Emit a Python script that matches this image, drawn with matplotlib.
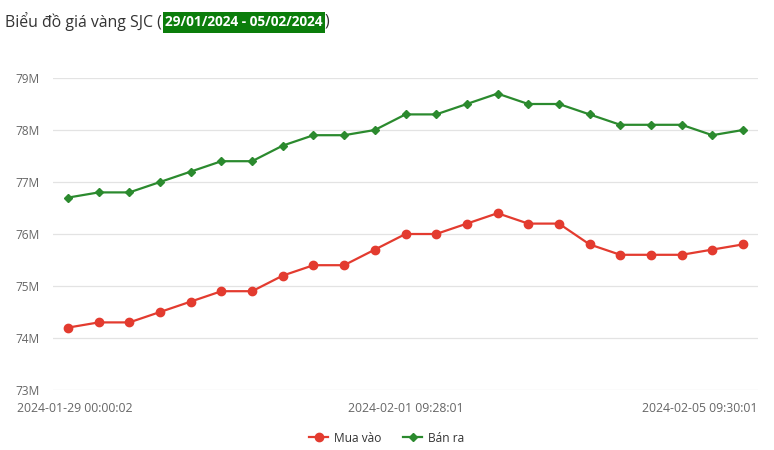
import matplotlib
matplotlib.use('Agg')

import matplotlib.pyplot as plt
import matplotlib.transforms as mtransforms
from matplotlib.lines import Line2D
from matplotlib.patches import Rectangle

# Giá vàng SJC (triệu đồng / lượng)
mua_vao = [74.2, 74.3, 74.3, 74.5, 74.7, 74.9, 74.9, 75.2, 75.4, 75.4, 75.7, 76.0,
           76.0, 76.2, 76.4, 76.2, 76.2, 75.8, 75.6, 75.6, 75.6, 75.7, 75.8]
ban_ra = [76.7, 76.8, 76.8, 77.0, 77.2, 77.4, 77.4, 77.7, 77.9, 77.9, 78.0, 78.3,
          78.3, 78.5, 78.7, 78.5, 78.5, 78.3, 78.1, 78.1, 78.1, 77.9, 78.0]
tick_idx = [0, 11, 22]
tick_labels = ["2024-01-29 00:00:02", "2024-02-01 09:28:01", "2024-02-05 09:30:01"]
y_ticks = [73, 74, 75, 76, 77, 78, 79]

RED = '#e33b2f'
GREEN = '#2b8a2e'
FONT = ['Open Sans', 'DejaVu Sans']

plt.rcParams['font.family'] = FONT

W, H = 774, 450
fig = plt.figure(figsize=(W / 100, H / 100), dpi=100)
fig.patch.set_facecolor('white')


def px(dx, dy=0):
    return mtransforms.ScaledTranslation(dx / 100, dy / 100, fig.dpi_scale_trans)


ax = fig.add_axes([53 / W, 1 - 390 / H, (758 - 53) / W, (390 - 78) / H])
x = list(range(len(mua_vao)))
ax.plot(x, mua_vao, color=RED, lw=1.6, marker='o', ms=6, label='Mua vào', zorder=3)
ax.plot(x, ban_ra, color=GREEN, lw=1.6, marker='D', ms=4.2, label='Bán ra', zorder=3)

ax.set_xlim(-0.49, len(x) - 1 + 0.49)
ax.set_ylim(73, 79)
ax.set_yticks(y_ticks)
ax.set_yticklabels([f"{v}M" for v in y_ticks])
ax.grid(axis='y', color='#e3e3e3', lw=0.9)
ax.set_axisbelow(True)
for s in ax.spines.values():
    s.set_visible(False)

ax.tick_params(axis='y', length=0, pad=0, labelsize=8.6, labelcolor='#666666')
for lbl in ax.get_yticklabels():
    lbl.set_ha('left')
    lbl.set_transform(lbl.get_transform() + px(-38))

ax.set_xticks(tick_idx)
ax.set_xticklabels(tick_labels)
ax.tick_params(axis='x', length=0, pad=9, labelsize=8.8, labelcolor='#666666')
xl = ax.get_xticklabels()
xl[0].set_transform(xl[0].get_transform() + px(7))
xl[-1].set_ha('right')
xl[-1].set_transform(xl[-1].get_transform() + px(15))

# legend
handles = [Line2D([], [], color=RED, lw=1.6, marker='o', ms=6),
           Line2D([], [], color=GREEN, lw=1.6, marker='D', ms=4.2)]
fig.legend(handles, ['Mua vào', 'Bán ra'], loc='center', bbox_to_anchor=(0.5, 1 - 438 / H),
           ncol=2, frameon=False, fontsize=8.6, handlelength=1.6, handletextpad=0.5,
           columnspacing=1.8, labelcolor='#333333')

# title with highlighted dates
fig.canvas.draw()
r = fig.canvas.get_renderer()
ty = 1 - 22 / H
t1 = fig.text(5 / W, ty, "Biểu đồ giá vàng SJC (", fontsize=11.4, color='#333333', va='center')
x1 = t1.get_window_extent(r).x1
t2 = fig.text((x1 + 3) / W, ty, "29/01/2024 - 05/02/2024", fontsize=9.8, color='white',
              fontweight='bold', va='center', zorder=3)
bb = t2.get_window_extent(r)
fig.patches.append(Rectangle(((x1 + 1) / W, 1 - 33 / H), (bb.width + 4) / W, 21 / H,
                             transform=fig.transFigure, fc='#0b7d0b', ec='none', zorder=2))
fig.text((bb.x1 + 2) / W, ty, ")", fontsize=11.4, color='#333333', va='center')

fig.savefig('out.png', dpi=100, facecolor='white')
plt.close(fig)
